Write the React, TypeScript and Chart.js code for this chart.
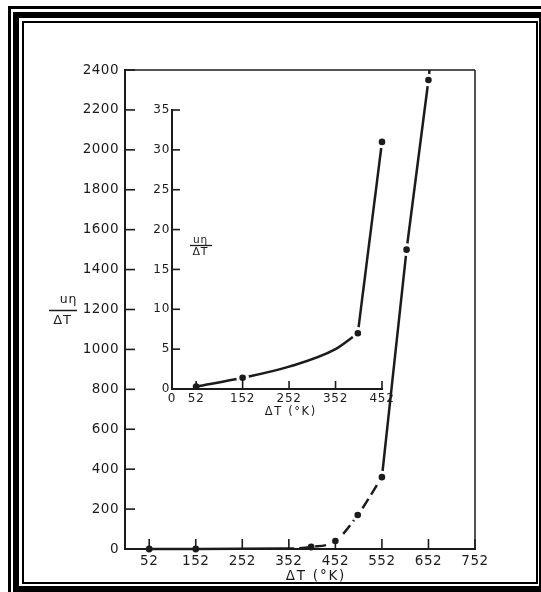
import React, { useEffect, useRef } from 'react';
import { Chart, registerables } from 'chart.js';

Chart.register(...registerables);

// ---------- data ----------
// main chart: measured points
const mainPointX = [52, 152, 400, 452, 500, 552, 605, 652];
const mainPointY = [0, 0, 10, 40, 170, 360, 1500, 2350];
// main chart: drawn curve, lower (curved, partly dashed) part
const mainLowX = [52, 152, 340, 400, 452, 500, 552];
const mainLowY = [0, 0, 2, 10, 40, 170, 360];
// main chart: drawn curve, upper (straight) part, running off the top
const mainHighX = [552, 605, 652, 658];
const mainHighY = [360, 1500, 2350, 2480];
const mainXTicks = [52, 152, 252, 352, 452, 552, 652, 752];
const mainYTicks = [0, 200, 400, 600, 800, 1000, 1200, 1400, 1600, 1800, 2000, 2200, 2400];

// inset chart
const insetPointX = [52, 152, 400, 452];
const insetPointY = [0.3, 1.4, 7, 31];
const insetLowX = [52, 152, 252, 352, 400];
const insetLowY = [0.3, 1.4, 2.8, 5.0, 7];
const insetHighX = [400, 452, 456];
const insetHighY = [7, 31, 33.5];
const insetXTicks = [0, 52, 152, 252, 352, 452];
const insetYTicks = [0, 5, 10, 15, 20, 25, 30, 35];

const axisTitle = 'ΔT (°K)';
const fracTop = 'uη';
const fracBottom = 'ΔT';

// ---------- styling ----------
const FONT = '"DejaVu Sans", sans-serif';
const INK = '#1b1b1b';

const toPts = (xs: number[], ys: number[]) => xs.map((x, i) => ({ x, y: ys[i] }));

function nearAxis(c: any) {
  const ys = c.chart.scales.y;
  if (!c.raw) return false;
  const py = ys.getPixelForValue(c.raw.y);
  return ys.bottom - py < 7;
}

function drawText(ctx: CanvasRenderingContext2D, text: string, x: number, y: number, size: number, spacing: number) {
  ctx.save();
  (ctx as any).letterSpacing = spacing + 'px';
  ctx.font = `${size}px ${FONT}`;
  ctx.fillStyle = INK;
  ctx.textBaseline = 'middle';
  const w = ctx.measureText(text).width;
  ctx.textAlign = 'left';
  ctx.fillText(text, x - (w - spacing) / 2, y);
  ctx.restore();
}

function line(ctx: CanvasRenderingContext2D, x1: number, y1: number, x2: number, y2: number, w: number) {
  ctx.save();
  ctx.strokeStyle = INK;
  ctx.lineWidth = w;
  ctx.beginPath();
  ctx.moveTo(x1, y1);
  ctx.lineTo(x2, y2);
  ctx.stroke();
  ctx.restore();
}

function decorPlugin(cfg: {
  spacing: number;
  tickLen: number;
  xTicks: number[];
  yTicks: number[];
  box: boolean;
  frame: boolean;
  labels: (ctx: CanvasRenderingContext2D) => void;
}) {
  return {
    id: 'decor',
    beforeDraw(chart: any) {
      const ctx: CanvasRenderingContext2D = chart.ctx;
      (ctx as any).letterSpacing = cfg.spacing + 'px';
      if (cfg.frame) {
        ctx.save();
        ctx.fillStyle = '#ffffff';
        ctx.fillRect(0, 0, chart.width, chart.height);
        ctx.fillStyle = '#000000';
        // outer thin line
        ctx.fillRect(8, 6, 3, 592);
        ctx.fillRect(8, 6, 541, 3);
        // thick band
        ctx.fillRect(13, 12, 6, 580);
        ctx.fillRect(13, 12, 528, 6);
        ctx.fillRect(539, 12, 6, 580);
        ctx.fillRect(13, 586, 528, 6);
        // inner thin line
        ctx.fillRect(22, 21, 2, 563);
        ctx.fillRect(22, 21, 516, 2);
        ctx.fillRect(536, 21, 2, 563);
        ctx.fillRect(22, 582, 516, 2);
        ctx.restore();
      }
    },
    afterDraw(chart: any) {
      const ctx: CanvasRenderingContext2D = chart.ctx;
      const { left, right, top, bottom } = chart.chartArea;
      const xs = chart.scales.x;
      const ys = chart.scales.y;
      if (cfg.box) {
        line(ctx, left, top, right, top, 1.5);
        line(ctx, right, top, right, bottom, 1.5);
      }
      cfg.xTicks.forEach((v) => {
        const px = xs.getPixelForValue(v);
        if (Math.abs(px - left) < 2) return;
        line(ctx, px, bottom, px, bottom - cfg.tickLen, 1.6);
      });
      cfg.yTicks.forEach((v) => {
        const py = ys.getPixelForValue(v);
        if (Math.abs(py - bottom) < 2) return;
        line(ctx, left, py, left + cfg.tickLen, py, 1.6);
      });
      cfg.labels(ctx);
    },
  };
}

function baseDatasets(px: number[], py: number[], lx: number[], ly: number[], hx: number[], hy: number[], dashFrom: number | null) {
  return [
    {
      data: toPts(px, py),
      showLine: false,
      pointRadius: (c: any) => (nearAxis(c) ? 3.4 : 4.8),
      pointHoverRadius: (c: any) => (nearAxis(c) ? 3.4 : 4.8),
      pointBackgroundColor: INK,
      pointBorderColor: (c: any) => (nearAxis(c) ? INK : '#ffffff'),
      pointBorderWidth: (c: any) => (nearAxis(c) ? 0 : 3),
      clip: { left: 10, right: 10, top: 10, bottom: 10 },
    },
    {
      data: toPts(lx, ly),
      borderColor: INK,
      borderWidth: 2.5,
      pointRadius: 0,
      cubicInterpolationMode: 'monotone',
      segment: {
        borderDash: (c: any) => (dashFrom !== null && c.p0.parsed.x >= dashFrom ? [11, 5] : undefined),
      },
      clip: { left: 4, right: 4, top: 0, bottom: 4 },
    },
    {
      data: toPts(hx, hy),
      borderColor: INK,
      borderWidth: 2.5,
      pointRadius: 0,
      tension: 0,
      clip: { left: 4, right: 6, top: 0, bottom: 4 },
    },
  ];
}

function mainConfig(): any {
  return {
    type: 'line',
    data: {
      datasets: baseDatasets(mainPointX, mainPointY, mainLowX, mainLowY, mainHighX, mainHighY, 340),
    },
    options: {
      responsive: false,
      animation: false,
      events: [],
      layout: { padding: { left: 0, top: 70, right: 66, bottom: 0 } },
      plugins: { legend: { display: false }, tooltip: { enabled: false } },
      scales: {
        x: {
          type: 'linear',
          min: 0,
          max: 752,
          afterBuildTicks: (s: any) => {
            s.ticks = mainXTicks.map((v) => ({ value: v }));
          },
          afterFit: (s: any) => {
            s.height = 43;
          },
          grid: { display: false, drawTicks: false },
          border: { display: true, color: INK, width: 2 },
          ticks: {
            autoSkip: false,
            maxRotation: 0,
            padding: 4,
            color: INK,
            font: { family: FONT, size: 13.5 },
            callback: (v: any) => String(v),
          },
        },
        y: {
          type: 'linear',
          min: 0,
          max: 2400,
          afterBuildTicks: (s: any) => {
            s.ticks = mainYTicks.map((v) => ({ value: v }));
          },
          afterFit: (s: any) => {
            s.width = 125;
          },
          grid: { display: false, drawTicks: false },
          border: { display: true, color: INK, width: 2 },
          ticks: {
            autoSkip: false,
            padding: 6,
            color: INK,
            font: { family: FONT, size: 13.5 },
            callback: (v: any) => String(v),
          },
        },
      },
    },
    plugins: [
      decorPlugin({
        spacing: 0.5,
        tickLen: 10,
        xTicks: mainXTicks,
        yTicks: mainYTicks,
        box: true,
        frame: true,
        labels: (ctx) => {
          drawText(ctx, fracTop, 68, 300, 12.5, 0.8);
          line(ctx, 49, 310.5, 77, 310.5, 1.5);
          drawText(ctx, fracBottom, 62, 321, 13, 0.8);
          drawText(ctx, axisTitle, 315, 576, 13.5, 1.8);
        },
      }),
    ],
  };
}

const IX = 120;
const IY = 95;

function insetConfig(): any {
  return {
    type: 'line',
    data: {
      datasets: baseDatasets(insetPointX, insetPointY, insetLowX, insetLowY, insetHighX, insetHighY, null),
    },
    options: {
      responsive: false,
      animation: false,
      events: [],
      layout: { padding: { left: 0, top: 15, right: 38, bottom: 0 } },
      plugins: { legend: { display: false }, tooltip: { enabled: false } },
      scales: {
        x: {
          type: 'linear',
          min: 0,
          max: 452,
          afterBuildTicks: (s: any) => {
            s.ticks = insetXTicks.map((v) => ({ value: v }));
          },
          afterFit: (s: any) => {
            s.height = 36;
          },
          grid: { display: false, drawTicks: false },
          border: { display: true, color: INK, width: 2 },
          ticks: {
            autoSkip: false,
            maxRotation: 0,
            padding: 3,
            color: INK,
            font: { family: FONT, size: 12 },
            callback: (v: any) => String(v),
          },
        },
        y: {
          type: 'linear',
          min: 0,
          max: 35,
          afterBuildTicks: (s: any) => {
            s.ticks = insetYTicks.map((v) => ({ value: v }));
          },
          afterFit: (s: any) => {
            s.width = 52;
          },
          grid: { display: false, drawTicks: false },
          border: { display: true, color: INK, width: 2 },
          ticks: {
            autoSkip: false,
            padding: 2,
            color: INK,
            font: { family: FONT, size: 12 },
            callback: (v: any) => String(v),
          },
        },
      },
    },
    plugins: [
      decorPlugin({
        spacing: 0.7,
        tickLen: 8,
        xTicks: insetXTicks,
        yTicks: insetYTicks,
        box: false,
        frame: false,
        labels: (ctx) => {
          drawText(ctx, fracTop, 200 - IX, 240 - IY, 10.5, 0.8);
          line(ctx, 190 - IX, 245.5 - IY, 212 - IX, 245.5 - IY, 1.3);
          drawText(ctx, fracBottom, 200 - IX, 252 - IY, 11, 0.8);
          drawText(ctx, axisTitle, 290 - IX, 412 - IY, 11.5, 1.6);
        },
      }),
    ],
  };
}

export default function App() {
  const mainRef = useRef<HTMLCanvasElement>(null);
  const insetRef = useRef<HTMLCanvasElement>(null);

  useEffect(() => {
    const main = new Chart(mainRef.current as HTMLCanvasElement, mainConfig());
    const inset = new Chart(insetRef.current as HTMLCanvasElement, insetConfig());
    return () => {
      main.destroy();
      inset.destroy();
    };
  }, []);

  return (
    <div
      style={{
        position: 'fixed',
        left: 0,
        top: 0,
        width: 541,
        height: 592,
        background: '#ffffff',
        overflow: 'hidden',
      }}
    >
      <canvas
        ref={mainRef}
        width={541}
        height={592}
        style={{ position: 'absolute', left: 0, top: 0, width: 541, height: 592 }}
      />
      <canvas
        ref={insetRef}
        width={300}
        height={330}
        style={{ position: 'absolute', left: IX, top: IY, width: 300, height: 330 }}
      />
    </div>
  );
}
